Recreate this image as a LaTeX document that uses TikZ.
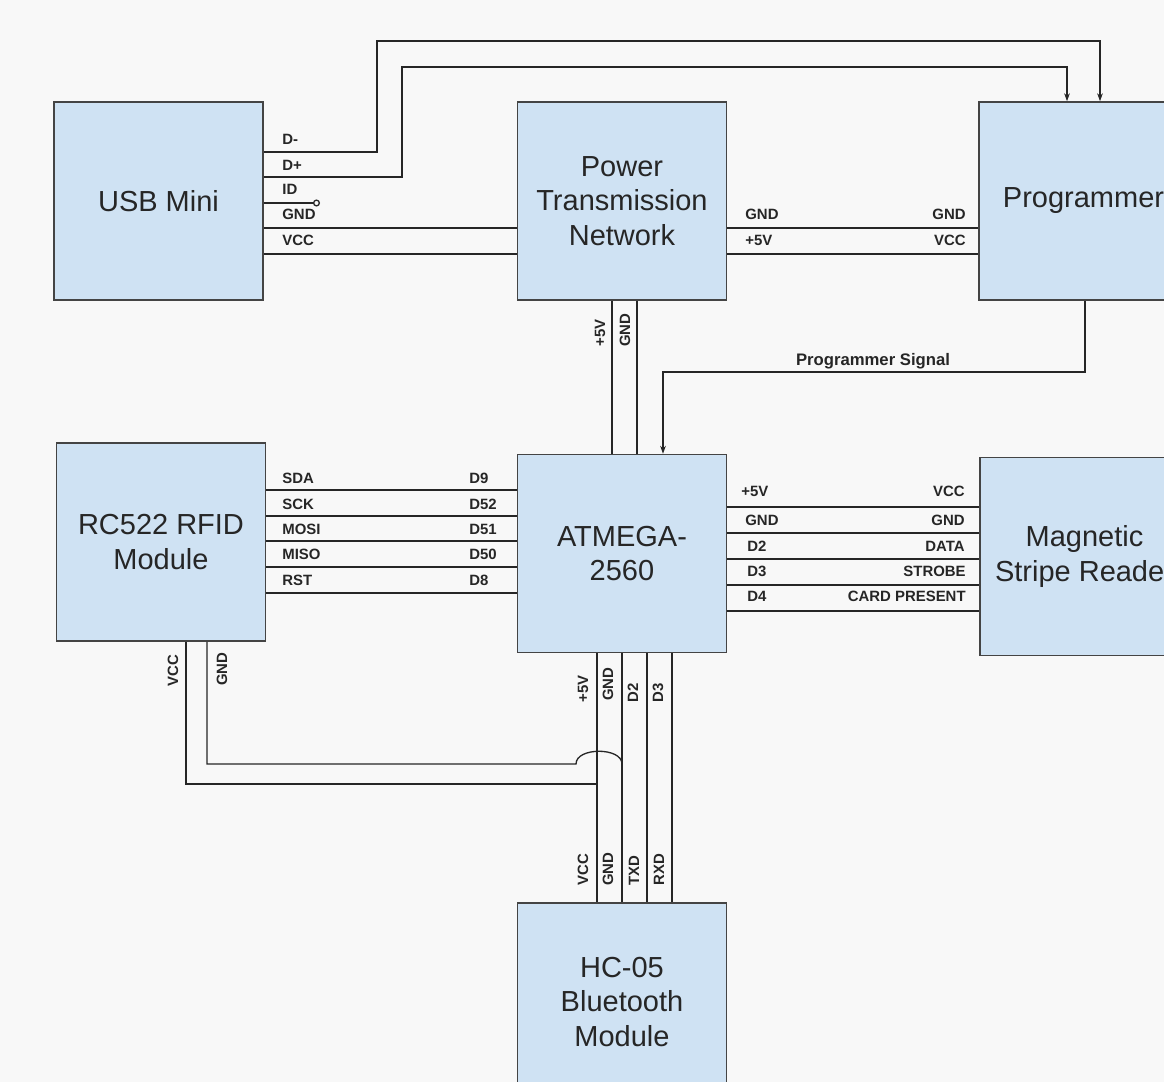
\documentclass[tikz,border=0pt]{standalone}
\usepackage{fontspec}
\setmainfont{Liberation Sans}
\usetikzlibrary{positioning,calc,arrows.meta}
\definecolor{boxfill}{HTML}{CFE2F3}
\definecolor{boxline}{HTML}{444444}
\definecolor{pagebg}{HTML}{F8F8F8}

\begin{document}
\begin{tikzpicture}[
    x=0.02cm, y=-0.02cm,
    box/.style={rectangle, draw=boxline, line width=0.9pt, fill=boxfill, minimum width=4.18cm, minimum height=3.96cm, align=center, text=black!85, font=\fontsize{16.5}{19.8}\selectfont},
    wire/.style={draw=black!85, line width=0.75pt},
    arrow/.style={wire, -{Stealth[length=4.5pt,width=3.2pt]}},
    pin/.style={inner sep=0pt, text=black!85, font=\fontsize{8.5}{10}\selectfont\bfseries},
    vpin/.style={pin, rotate=90, anchor=west}
]
\clip (0,0) rectangle (1164,1082);
\fill[pagebg] (0,0) rectangle (1164,1082);

% blocks
\node[box] (usb) at (158.5,201) {USB Mini};
\node[box, right=5.06cm of usb] (ptn) {Power\\Transmission\\Network};
\node[box] (prog) at (1083.5,201) {Programmer};
\node[box, below=3.06cm of ptn] (atm) {ATMEGA-\\2560};
\node[box] (msr) at (1084.5,556.5) {Magnetic\\Stripe Reader};
\node[box, below=4.98cm of atm] (hc) {HC-05\\Bluetooth\\Module};
\node[box] (rfid) at (161,542) {RC522 RFID\\Module};

% USB Mini to programmer and power network
\draw[arrow] (usb.east |- 0,152) -| (377,41) -| ($(prog.north)+(16.5,0)$);
\draw[arrow] (usb.east |- 0,177) -| (402,67) -| ($(prog.north)+(-16.5,0)$);
\coordinate (idend) at (320,203);
\draw[wire, -{Circle[open,length=4pt]}] (usb.east |- idend) -- (idend);
\draw[wire] (usb.east |- 0,228) -- (ptn.west |- 0,228);
\draw[wire] (usb.east |- 0,254) -- (ptn.west |- 0,254);
\node[pin, anchor=west] (udm) at (282,139) {D-};
\node[pin, anchor=west] (udp) at (282,165) {D+};
\node[pin, anchor=west] (uid) at (282,189) {ID};
\node[pin, anchor=west] (ugnd) at (282,214) {GND};
\node[pin, anchor=west] (uvcc) at (282,240) {VCC};

% power network to programmer
\draw[wire] (ptn.east |- 0,228) -- (prog.west |- 0,228);
\draw[wire] (ptn.east |- 0,254) -- (prog.west |- 0,254);
\node[pin, anchor=west] (pgnd) at (745,214) {GND};
\node[pin, anchor=west] (p5v) at (745,240) {+5V};
\node[pin, anchor=east] (qgnd) at (966,214) {GND};
\node[pin, anchor=east] (qvcc) at (966,240) {VCC};

% power network to ATMEGA
\draw[wire] (612,0 |- ptn.south) -- (612,0 |- atm.north);
\draw[wire] (637,0 |- ptn.south) -- (637,0 |- atm.north);
\node[vpin] (n5v) at (600,347) {+5V};
\node[vpin] (ngnd) at (625,347) {GND};

% programmer signal
\draw[arrow] (prog.south -| 1085,0) |- (663,372) -- (663,0 |- atm.north);
\node[pin, font=\fontsize{9.5}{11}\selectfont\bfseries] (siglabel) at (873,361) {Programmer Signal};

% RFID module to ATMEGA
\draw[wire] (rfid.east |- 0,490) -- (atm.west |- 0,490);
\draw[wire] (rfid.east |- 0,516) -- (atm.west |- 0,516);
\draw[wire] (rfid.east |- 0,541) -- (atm.west |- 0,541);
\draw[wire] (rfid.east |- 0,567) -- (atm.west |- 0,567);
\draw[wire] (rfid.east |- 0,593) -- (atm.west |- 0,593);
\node[pin, anchor=west] (rsda) at (282,478) {SDA};
\node[pin, anchor=west] (rsck) at (282,504) {SCK};
\node[pin, anchor=west] (rmosi) at (282,529) {MOSI};
\node[pin, anchor=west] (rmiso) at (282,554) {MISO};
\node[pin, anchor=west] (rrst) at (282,580) {RST};
\node[pin, anchor=west] (ad9) at (469,478) {D9};
\node[pin, anchor=west] (ad52) at (469,504) {D52};
\node[pin, anchor=west] (ad51) at (469,529) {D51};
\node[pin, anchor=west] (ad50) at (469,554) {D50};
\node[pin, anchor=west] (ad8) at (469,580) {D8};

% ATMEGA to stripe reader
\draw[wire] (atm.east |- 0,507) -- (msr.west |- 0,507);
\draw[wire] (atm.east |- 0,533) -- (msr.west |- 0,533);
\draw[wire] (atm.east |- 0,559) -- (msr.west |- 0,559);
\draw[wire] (atm.east |- 0,585) -- (msr.west |- 0,585);
\draw[wire] (atm.east |- 0,611) -- (msr.west |- 0,611);
\node[pin, anchor=west] (m5v) at (741,491) {+5V};
\node[pin, anchor=west] (mgnd) at (745,520) {GND};
\node[pin, anchor=west] (md2) at (747,546) {D2};
\node[pin, anchor=west] (md3) at (747,571) {D3};
\node[pin, anchor=west] (md4) at (747,596) {D4};
\node[pin, anchor=east] (svcc) at (965,491) {VCC};
\node[pin, anchor=east] (sgnd) at (965,520) {GND};
\node[pin, anchor=east] (sdata) at (965,546) {DATA};
\node[pin, anchor=east] (sstrobe) at (966,571) {STROBE};
\node[pin, anchor=east] (scard) at (966,596) {CARD PRESENT};

% ATMEGA to bluetooth module
\draw[wire] (597,0 |- atm.south) -- (597,0 |- hc.north);
\draw[wire] (622,0 |- atm.south) -- (622,0 |- hc.north);
\draw[wire] (647,0 |- atm.south) -- (647,0 |- hc.north);
\draw[wire] (672,0 |- atm.south) -- (672,0 |- hc.north);
\node[vpin] (b5v) at (583,703) {+5V};
\node[vpin] (bgnd) at (608,701) {GND};
\node[vpin] (bd2) at (633,703) {D2};
\node[vpin] (bd3) at (658,703) {D3};
\node[vpin] (hvcc) at (583,886) {VCC};
\node[vpin] (hgnd) at (608,886) {GND};
\node[vpin] (htxd) at (634,886) {TXD};
\node[vpin] (hrxd) at (659,886) {RXD};

% RFID supply, GND hops over the +5V line
\coordinate (vccjoin) at (597,784);
\coordinate (gndjoin) at (622,764);
\draw[wire] (186,0 |- rfid.south) |- (vccjoin);
\draw[wire] (207,0 |- rfid.south) |- (576,764) .. controls (576,747) and (622,747) .. (gndjoin);
\node[vpin] (rvcc) at (173,687) {VCC};
\node[vpin] (rgnd) at (222,686) {GND};

\end{tikzpicture}
\end{document}
